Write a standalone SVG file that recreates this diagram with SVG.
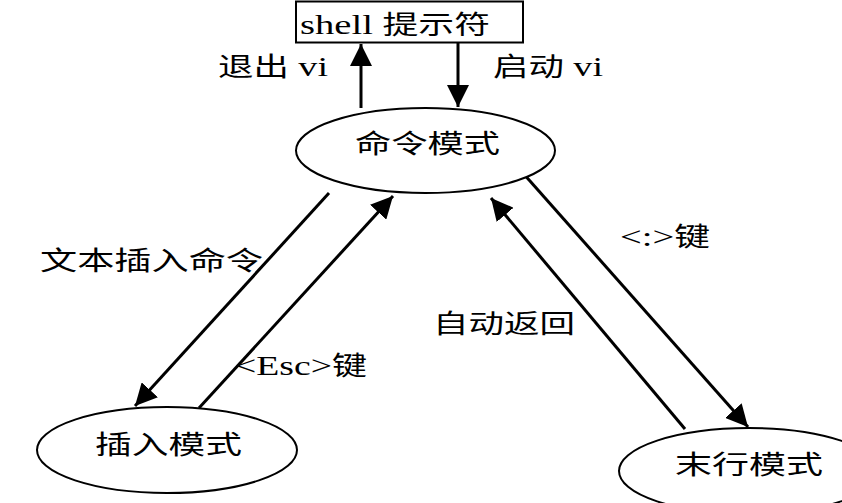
<svg xmlns="http://www.w3.org/2000/svg" width="842" height="503" viewBox="0 0 842 503">
<style>
.t{font-family:"Liberation Serif","Noto Sans CJK SC",serif;font-size:26px;font-weight:normal;fill:#000}
.l{font-size:28px}
.n{fill:#fff;stroke:#000;stroke-width:2}
.c{stroke:#000;stroke-width:3;fill:none;marker-end:url(#ah)}
</style>
<defs>
<marker id="ah" markerUnits="userSpaceOnUse" markerWidth="22" markerHeight="22" viewBox="0 0 20 20" refX="20" refY="10" orient="auto">
<path d="M0,0 L20,10 L0,20 Z" fill="#000"/>
</marker>
</defs>
<rect width="842" height="503" fill="#fff"/>
<g id="connectors">
<line class="c" x1="361" y1="108" x2="361" y2="44"/>
<line class="c" x1="458" y1="43" x2="458" y2="107"/>
<line class="c" x1="329" y1="193" x2="135" y2="406"/>
<line class="c" x1="199" y1="408" x2="393" y2="196"/>
<line class="c" x1="522" y1="172" x2="748" y2="427"/>
<line class="c" x1="685" y1="429" x2="491" y2="198"/>
</g>
<g id="shell">
<rect class="n" x="296" y="1.5" width="227" height="41"/>
<text class="t" x="300" y="34" textLength="190" lengthAdjust="spacingAndGlyphs"><tspan class="l">shell </tspan>提示符</text>
</g>
<g id="cmd">
<ellipse class="n" cx="425.5" cy="150.5" rx="129.5" ry="42.5"/>
<text class="t" x="355" y="153" textLength="145" lengthAdjust="spacingAndGlyphs">命令模式</text>
</g>
<g id="insert">
<ellipse class="n" cx="167" cy="450" rx="130" ry="43"/>
<text class="t" x="95" y="454" textLength="147" lengthAdjust="spacingAndGlyphs">插入模式</text>
</g>
<g id="lastline">
<ellipse class="n" cx="749" cy="471" rx="130" ry="43"/>
<text class="t" x="675" y="474" textLength="148" lengthAdjust="spacingAndGlyphs">末行模式</text>
</g>
<g id="labels">
<text class="t" x="218" y="76" textLength="110" lengthAdjust="spacingAndGlyphs">退出<tspan class="l"> vi</tspan></text>
<text class="t" x="493" y="76" textLength="110" lengthAdjust="spacingAndGlyphs">启动<tspan class="l"> vi</tspan></text>
<text class="t" x="40" y="270" textLength="223" lengthAdjust="spacingAndGlyphs">文本插入命令</text>
<text class="t" x="235" y="375" textLength="132" lengthAdjust="spacingAndGlyphs"><tspan class="l">&lt;Esc&gt;</tspan>键</text>
<text class="t" x="620" y="246" textLength="90" lengthAdjust="spacingAndGlyphs"><tspan class="l">&lt;:&gt;</tspan>键</text>
<text class="t" x="433" y="333" textLength="142" lengthAdjust="spacingAndGlyphs">自动返回</text>
</g>
</svg>
